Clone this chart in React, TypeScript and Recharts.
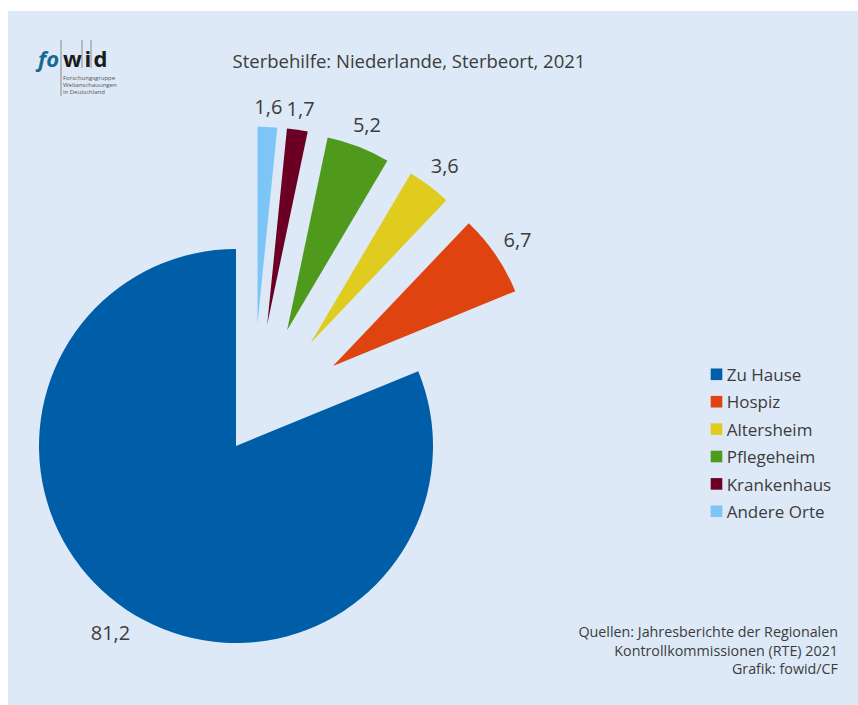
import React from 'react';
import { PieChart, Pie, Cell } from 'recharts';

// ---- data ----
const categories = ['Zu Hause', 'Hospiz', 'Altersheim', 'Pflegeheim', 'Krankenhaus', 'Andere Orte'];
const values = [81.2, 6.7, 3.6, 5.2, 1.7, 1.6];
const title = 'Sterbehilfe: Niederlande, Sterbeort, 2021';
const sourceLines = [
  'Quellen: Jahresberichte der Regionalen',
  'Kontrollkommissionen (RTE) 2021',
  'Grafik: fowid/CF',
];
const logoSubtitle = ['Forschungsgruppe', 'Weltanschauungen', 'in Deutschland'];

// ---- styles ----
const colors = ['#005ea8', '#de4310', '#e0cc1f', '#4f9a1d', '#6c0024', '#7dc4f7'];
// explosion offset per slice (px)
const explodeOffsets: [number, number][] = [
  [0, 0],
  [97, -80],
  [74.6, -103],
  [51.1, -115.7],
  [31.2, -121.6],
  [21.5, -122.3],
];
const W = 850;
const H = 694;
const CX = 228;
const CY = 435;
const R = 197;
const FONT = "'Open Sans', 'DejaVu Sans', sans-serif";
const TEXT = '#3c3c3c';
const BG = '#dde9f6';
const LABEL_FS = 20;

const data = categories.map((name, i) => ({ name, value: values[i] }));
const fmt = (v: number) => v.toFixed(1).replace('.', ',');

const textWidth = (s: string, fs: number) =>
  s.split('').reduce((a, c) => a + (c === ',' ? 0.245 : 0.572), 0) * fs;

const makeLabel = (own: number) => (props: any) => {
  if (props.index !== own) return null;
  const { cx, cy, midAngle, outerRadius, value } = props;
  const rad = (Math.PI / 180) * midAngle;
  const c = Math.cos(rad);
  const s = Math.sin(rad);
  const txt = fmt(value);
  const w = textWidth(txt, LABEL_FS);
  const ext = (w / 2) * Math.abs(c) + 9 * Math.abs(s);
  const d = outerRadius + 10 + ext;
  const x = cx + d * c;
  const y = cy - d * s;
  return (
    <text
      x={x}
      y={y + 0.36 * LABEL_FS}
      textAnchor="middle"
      fontSize={LABEL_FS}
      fontFamily={FONT}
      fill={TEXT}
    >
      {txt}
    </text>
  );
};

export default function App() {
  return (
    <div
      style={{
        position: 'absolute',
        left: 8,
        top: 11,
        width: W,
        height: H,
        background: BG,
        overflow: 'hidden',
      }}
    >
      <PieChart width={W} height={H} margin={{ top: 0, right: 0, bottom: 0, left: 0 }}>
        {categories.map((_, k) => (
          <Pie
            key={k}
            data={data}
            dataKey="value"
            nameKey="name"
            cx={CX + explodeOffsets[k][0]}
            cy={CY + explodeOffsets[k][1]}
            outerRadius={R}
            innerRadius={0}
            startAngle={90}
            endAngle={450}
            stroke="none"
            isAnimationActive={false}
            label={makeLabel(k)}
            labelLine={false}
          >
            {data.map((_, i) => (
              <Cell key={i} fill={i === k ? colors[i] : 'transparent'} stroke="none" />
            ))}
          </Pie>
        ))}
      </PieChart>
      <svg
        width={W}
        height={H}
        style={{ position: 'absolute', left: 0, top: 0, pointerEvents: 'none' }}
      >
        {/* logo */}
        <g fontFamily={FONT} fontWeight={700} fontSize={22}>
          <text x={30} y={56} fill="#17698f" fontStyle="italic">fo</text>
          <line x1={53} y1={29} x2={53} y2={85} stroke="#8a8a8a" strokeWidth={1} />
          <text x={55} y={56} fill="#1a1a1a">w</text>
          <line x1={74} y1={29} x2={74} y2={57} stroke="#8a8a8a" strokeWidth={1} />
          <text x={76.5} y={56} fill="#1a1a1a">i</text>
          <line x1={83} y1={29} x2={83} y2={57} stroke="#8a8a8a" strokeWidth={1} />
          <text x={85.5} y={56} fill="#1a1a1a">d</text>
        </g>
        {logoSubtitle.map((t, i) => (
          <text key={t} x={55} y={69 + i * 7} fontFamily={FONT} fontSize={6} fill="#555">
            {t}
          </text>
        ))}
        {/* title */}
        <text x={401} y={56.7} textAnchor="middle" fontFamily={FONT} fontSize={18.5} fill={TEXT}>
          {title}
        </text>
        {/* legend */}
        {categories.map((c, i) => (
          <g key={c}>
            <rect x={702.7} y={357.5 + i * 27.4} width={11.6} height={11.6} fill={colors[i]} />
            <text x={718.7} y={370 + i * 27.4} fontFamily={FONT} fontSize={17} fill={TEXT}>
              {c}
            </text>
          </g>
        ))}
        {/* sources */}
        {sourceLines.map((t, i) => (
          <text
            key={t}
            x={830}
            y={625.7 + i * 18.8}
            textAnchor="end"
            fontFamily={FONT}
            fontSize={14.3}
            fill={TEXT}
          >
            {t}
          </text>
        ))}
      </svg>
    </div>
  );
}
